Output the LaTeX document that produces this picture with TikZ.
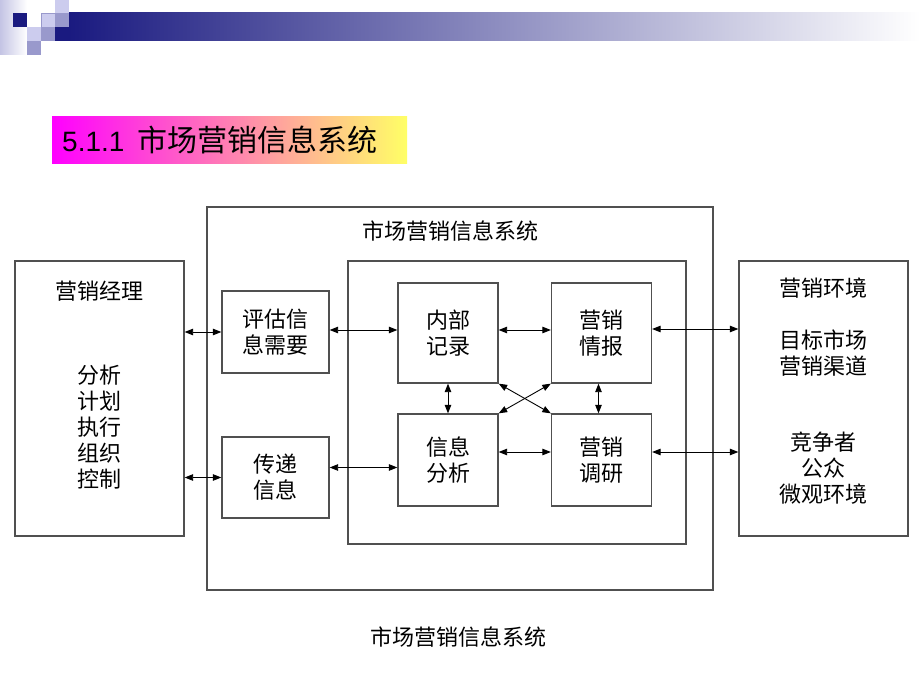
\documentclass[tikz,border=0pt]{standalone}
\usepackage{fontspec}
\setmainfont{Liberation Sans}
\newfontfamily\cjk{Noto Sans CJK SC}
\usetikzlibrary{arrows.meta,calc}
\definecolor{navy}{HTML}{1A1A80}
\definecolor{barmid}{HTML}{9C9CB8}
\definecolor{lavA}{HTML}{CCCCEE}
\definecolor{lavB}{HTML}{9999CC}
\definecolor{lav0}{HTML}{C4C4E4}
\definecolor{tmag}{HTML}{FF00FF}
\definecolor{tpink}{HTML}{FFC4C8}
\definecolor{tyel}{HTML}{FFFF66}
\definecolor{boxgray}{HTML}{505050}
\tikzset{
  frame/.style={draw=boxgray, line width=1.3pt, rectangle, inner sep=0pt},
  cell/.style={frame, align=center, font=\cjk\fontsize{22}{26}\selectfont},
  lbl/.style={align=center, inner sep=0pt, font=\cjk\fontsize{22}{26}\selectfont},
  biarrow/.style={line width=0.9pt, {Triangle[length=8.5pt,width=6.5pt]}-{Triangle[length=8.5pt,width=6.5pt]}}
}
\begin{document}
\begin{tikzpicture}[x=1pt,y=-1pt]
\useasboundingbox (0,0) rectangle (920,690);
\fill[white] (0,0) rectangle (920,690);
% corner decoration
\shade[left color=lav0, right color=white] (0,0) rectangle (27,55);
\fill[navy] (13,13) rectangle (27,27);
\fill[lavA] (27,27) rectangle (41,41);
\fill[lavB] (27,41) rectangle (41,55);
\fill[lavA, draw=lavB, line width=0.6pt] (41,13) rectangle (55,27);
\fill[lavB] (41,27) rectangle (55,41);
\fill[lavA] (55,0) rectangle (69,13);
\fill[lavB] (55,13) rectangle (69,27);
\fill[navy] (55,27) rectangle (69,41);
\shade[left color=navy, middle color=barmid, right color=white] (69,13) rectangle (920,41);
% title
\shade[left color=tmag, middle color=tpink, right color=tyel] (52,117) rectangle (407,163);
\node[anchor=base west, inner sep=0pt, font=\fontsize{28}{34}\selectfont] (ttl) at (62,151) {5.1.1\hspace{0.45em}{\cjk\fontsize{30}{34}\selectfont 市场营销信息系统}};
% big frames
\node[frame, minimum width=169pt, minimum height=275pt] (mgr) at (99.5,398.5) {};
\node[frame, minimum width=169pt, minimum height=275pt] (env) at (823.5,398.5) {};
\node[frame, minimum width=506pt, minimum height=383pt] (sys) at (460,398.5) {};
\node[frame, minimum width=338pt, minimum height=283pt] (core) at (517,402.5) {};
% labels
\node[lbl] (syst) at (450,231) {市场营销信息系统};
\node[lbl] (cap) at (458,637) {市场营销信息系统};
\node[lbl] (mgrt) at (99.5,291) {营销经理};
\node[lbl] (mgrl) at (99.5,427) {分析\\计划\\执行\\组织\\控制};
\node[lbl] (envt) at (823.5,288) {营销环境};
\node[lbl] (envl1) at (823.5,353) {目标市场\\营销渠道};
\node[lbl] (envl2) at (823.5,468) {竞争者\\公众\\微观环境};
% inner cells
\node[cell, minimum width=107pt, minimum height=82pt] (pg) at (275.5,332) {评估信\\息需要};
\node[cell, minimum width=107pt, minimum height=81pt] (cd) at (275.5,477.5) {传递\\信息};
\node[cell, minimum width=100pt, minimum height=100pt] (nb) at (448,333) {内部\\记录};
\node[cell, minimum width=100pt, minimum height=100pt] (qb) at (601.5,333) {营销\\情报};
\node[cell, minimum width=100pt, minimum height=92pt] (fx) at (448,460) {信息\\分析};
\node[cell, minimum width=100pt, minimum height=92pt] (dy) at (601.5,460) {营销\\调研};
% arrows
\draw[biarrow] (pg.west) -- (pg.west -| mgr.east);
\draw[biarrow] (cd.west) -- (cd.west -| mgr.east);
\draw[biarrow] ($(pg.east)+(0,-2)$) -- ($(pg.east -| nb.west)+(0,-2)$);
\draw[biarrow] ($(cd.east)+(0,-10)$) -- ($(cd.east -| fx.west)+(0,-10)$);
\draw[biarrow] ($(nb.east)+(0,-3)$) -- ($(qb.west)+(0,-3)$);
\draw[biarrow] ($(fx.east)+(0,-8)$) -- ($(dy.west)+(0,-8)$);
\draw[biarrow] ($(qb.east)+(0,-4)$) -- ($(qb.east -| env.west)+(0,-4)$);
\draw[biarrow] ($(dy.east)+(0,-8)$) -- ($(dy.east -| env.west)+(0,-8)$);
\draw[biarrow] (nb.south) -- (fx.north);
\draw[biarrow] ($(qb.south)+(-3,0)$) -- ($(dy.north)+(-3,0)$);
\draw[biarrow] (nb.south east) -- (dy.north west);
\draw[biarrow] (qb.south west) -- (fx.north east);
\end{tikzpicture}
\end{document}
